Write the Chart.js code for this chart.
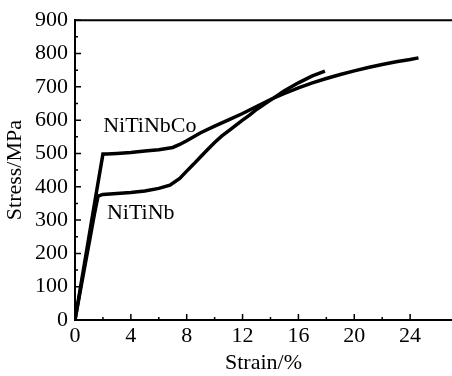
<!DOCTYPE html>
<html>
<head>
<meta charset="utf-8">
<script src="https://cdn.jsdelivr.net/npm/chart.js@4"></script>
<style>
  html, body { margin: 0; padding: 0; background: #fff; }
  #wrap { width: 452px; height: 376px; }
</style>
</head>
<body>
<div id="wrap"><canvas id="chart"></canvas></div>
<script>
/* stress-strain curves, NiTiNbCo vs NiTiNb */

const coStrain = [0, 0.5, 1.0, 1.5, 2.0, 2.3, 3, 4, 5, 6, 7, 7.5, 8, 8.5, 9, 10, 11, 12, 13, 14, 15, 16, 17, 18, 19, 20, 21, 22, 23, 24, 24.6];
const coStress = [0, 125, 250, 375, 498, 498, 500, 503, 507, 511, 518, 527, 538, 550, 562, 582, 601, 620, 641, 662, 680, 697, 712, 725, 737, 748, 758, 767, 775, 782, 787];

const nbStrain = [0, 0.5, 1.0, 1.4, 1.65, 2, 3, 4, 5, 6, 6.8, 7.5, 8, 8.5, 9, 9.5, 10, 10.5, 11, 12, 12.5, 13, 14, 15, 16, 17, 17.9];
const nbStress = [0, 115, 228, 320, 372, 377, 380, 383, 387, 395, 405, 425, 447, 468, 490, 512, 533, 552, 568, 600, 615, 632, 660, 688, 712, 733, 747];

const labels = [
  { text: "NiTiNbCo", x: 5.36, y: 582 },
  { text: "NiTiNb", x: 4.71, y: 321 },
];

const FONT = "'Liberation Serif', 'Times New Roman', serif";
const SIZE = 22;
const pts = (xs, ys) => xs.map((x, i) => ({ x, y: ys[i] }));

// inward ticks, top frame line and curve names
const decor = {
  id: "decor",
  afterDraw(chart) {
    const { ctx, chartArea: a, scales: { x, y } } = chart;
    ctx.save();
    ctx.strokeStyle = "#000";
    ctx.lineWidth = 2;
    ctx.beginPath();
    ctx.moveTo(a.left, a.top);
    ctx.lineTo(chart.width, a.top);
    ctx.stroke();
    ctx.lineWidth = 1.5;
    ctx.beginPath();
    x.ticks.forEach((t) => {
      if (t.value % 2 !== 0) return;
      const px = x.getPixelForValue(t.value);
      const len = t.value % 4 === 0 ? 6 : 3;
      ctx.moveTo(px, a.bottom);
      ctx.lineTo(px, a.bottom - len);
    });
    y.ticks.forEach((t) => {
      if (t.value % 50 !== 0) return;
      const py = y.getPixelForValue(t.value);
      const len = t.value % 100 === 0 ? 6 : 3;
      ctx.moveTo(a.left, py);
      ctx.lineTo(a.left + len, py);
    });
    ctx.stroke();
    ctx.fillStyle = "#000";
    ctx.font = SIZE + "px " + FONT;
    ctx.textAlign = "center";
    ctx.textBaseline = "middle";
    labels.forEach((l) => ctx.fillText(l.text, x.getPixelForValue(l.x), y.getPixelForValue(l.y)));
    ctx.restore();
  },
};

new Chart(document.getElementById("chart"), {
  type: "line",
  data: {
    datasets: [
      { label: "NiTiNbCo", data: pts(coStrain, coStress), borderColor: "#000", borderWidth: 3.5, pointRadius: 0, tension: 0 },
      { label: "NiTiNb", data: pts(nbStrain, nbStress), borderColor: "#000", borderWidth: 3.5, pointRadius: 0, tension: 0 },
    ],
  },
  options: {
    responsive: true,
    maintainAspectRatio: false,
    animation: false,
    layout: { padding: { top: 20, right: 0, left: 0, bottom: 0 } },
    plugins: { legend: { display: false }, tooltip: { enabled: false } },
    scales: {
      x: {
        type: "linear",
        min: 0,
        max: 27,
        afterFit: (s) => { s.height = 56; s.paddingRight = 0; },
        grid: { display: true, drawOnChartArea: false, drawTicks: false },
        border: { display: true, color: "#000", width: 2 },
        ticks: {
          stepSize: 2, autoSkip: false, maxRotation: 0, padding: 3, color: "#000",
          font: { family: FONT, size: SIZE },
          callback: (v) => (v % 4 === 0 ? v : ""),
        },
        title: { display: true, text: "Strain/%", color: "#000", font: { family: FONT, size: SIZE }, padding: { top: 0, bottom: 0 } },
      },
      y: {
        min: 0,
        max: 900,
        afterFit: (s) => { s.width = 75; },
        grid: { display: true, drawOnChartArea: false, drawTicks: false },
        border: { display: true, color: "#000", width: 2 },
        ticks: {
          stepSize: 50, autoSkip: false, padding: 7, color: "#000",
          font: { family: FONT, size: SIZE },
          callback: (v) => (v % 100 === 0 ? v : ""),
        },
        title: { display: true, text: "Stress/MPa", color: "#000", font: { family: FONT, size: SIZE }, padding: { top: 2, bottom: 0 } },
      },
    },
  },
  plugins: [decor],
});
</script>
</body>
</html>
